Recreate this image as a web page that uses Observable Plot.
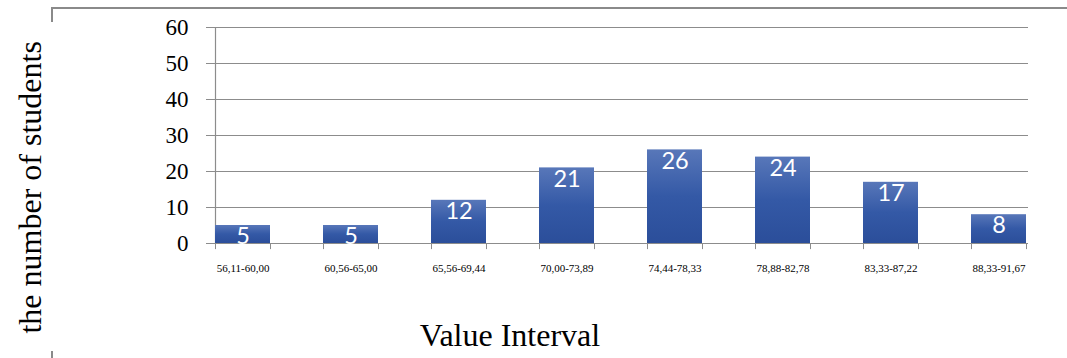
<!DOCTYPE html>
<html>
<head>
<meta charset="utf-8">
<script src="https://cdn.jsdelivr.net/npm/d3@7"></script>
<script src="https://cdn.jsdelivr.net/npm/@observablehq/plot@0.6"></script>
<style>
  html, body { margin: 0; padding: 0; background: #fff; }
  #wrap { position: relative; width: 1067px; height: 358px; overflow: hidden; }
  .frame-top { position: absolute; left: 52px; top: 7px; width: 1015px; height: 0; border-top: 2px solid #8a8a8a; }
  .frame-left1 { position: absolute; left: 51px; top: 7px; width: 0; height: 15px; border-left: 2px solid #8a8a8a; }
  .frame-left2 { position: absolute; left: 51px; top: 351px; width: 0; height: 7px; border-left: 2px solid #8a8a8a; }
  svg { position: absolute; left: 0; top: 0; }
</style>
</head>
<body>
<div id="wrap">
  <div class="frame-top"></div>
  <div class="frame-left1"></div>
  <div class="frame-left2"></div>
</div>
<script>
const categories = ["56,11-60,00", "60,56-65,00", "65,56-69,44", "70,00-73,89", "74,44-78,33", "78,88-82,78", "83,33-87,22", "88,33-91,67"];
const counts = [5, 5, 12, 21, 26, 24, 17, 8];
const yTicks = [0, 10, 20, 30, 40, 50, 60];
const yTitle = "the number of students";
const xTitle = "Value Interval";

const data = categories.map((c, i) => ({cat: c, count: counts[i]}));
const half = 27.5;

const chart = Plot.plot({
  width: 1067,
  height: 358,
  marginLeft: 213,
  marginRight: 39,
  marginTop: 27,
  marginBottom: 115,
  style: {fontFamily: "'Liberation Serif', 'Times New Roman', serif", background: "transparent", overflow: "visible"},
  x: {domain: categories, paddingInner: 0.493, paddingOuter: 0, axis: null},
  y: {domain: [0, 60], axis: null},
  marks: [
    Plot.ruleY(yTicks, {stroke: "#8c8c8c", strokeWidth: 1.2, insetLeft: -7}),
    Plot.ruleX([categories[0]], {y1: 0, y2: 60, dx: -half, stroke: "#8c8c8c", strokeWidth: 1.2}),
    Plot.barY(data, {x: "cat", y: "count", fill: "url(#barGrad)", style: {filter: "drop-shadow(2px 1px 2px rgba(0,0,0,0.35))"}}),
    Plot.ruleX(categories, {y1: 0, y2: -1.7, dx: -half, stroke: "#8c8c8c"}),
    Plot.ruleX(categories, {y1: 0, y2: -1.7, dx: half, stroke: "#8c8c8c"}),
    Plot.axisY({ticks: yTicks, tickSize: 0, tickPadding: 25, fontSize: 23, label: null, fill: "#000"}),
    Plot.axisX({tickSize: 0, tickPadding: 21, fontSize: 11, label: null, fill: "#000"}),
    Plot.text(data, {x: "cat", y: "count", text: d => String(d.count), fill: "white", fontFamily: "Lato, 'Open Sans', sans-serif", fontSize: 23.5, lineAnchor: "top", dy: 2}),
    Plot.text([yTitle], {frameAnchor: "left", y: () => 15.6, dx: -183, rotate: -90, textAnchor: "middle", lineAnchor: "middle", fontSize: 32, fill: "#000"}),
    Plot.text([xTitle], {frameAnchor: "bottom", dx: -111, dy: 102, fontSize: 32, fill: "#000"})
  ]
});

const ns = "http://www.w3.org/2000/svg";
const defs = document.createElementNS(ns, "defs");
defs.innerHTML = `<linearGradient id="barGrad" x1="0" y1="0" x2="0" y2="1">
  <stop offset="0" stop-color="#5877b9"/>
  <stop offset="0.5" stop-color="#3459a6"/>
  <stop offset="1" stop-color="#2b4e9a"/>
</linearGradient>`;
chart.insertBefore(defs, chart.firstChild);
document.getElementById("wrap").appendChild(chart);
</script>
</body>
</html>
